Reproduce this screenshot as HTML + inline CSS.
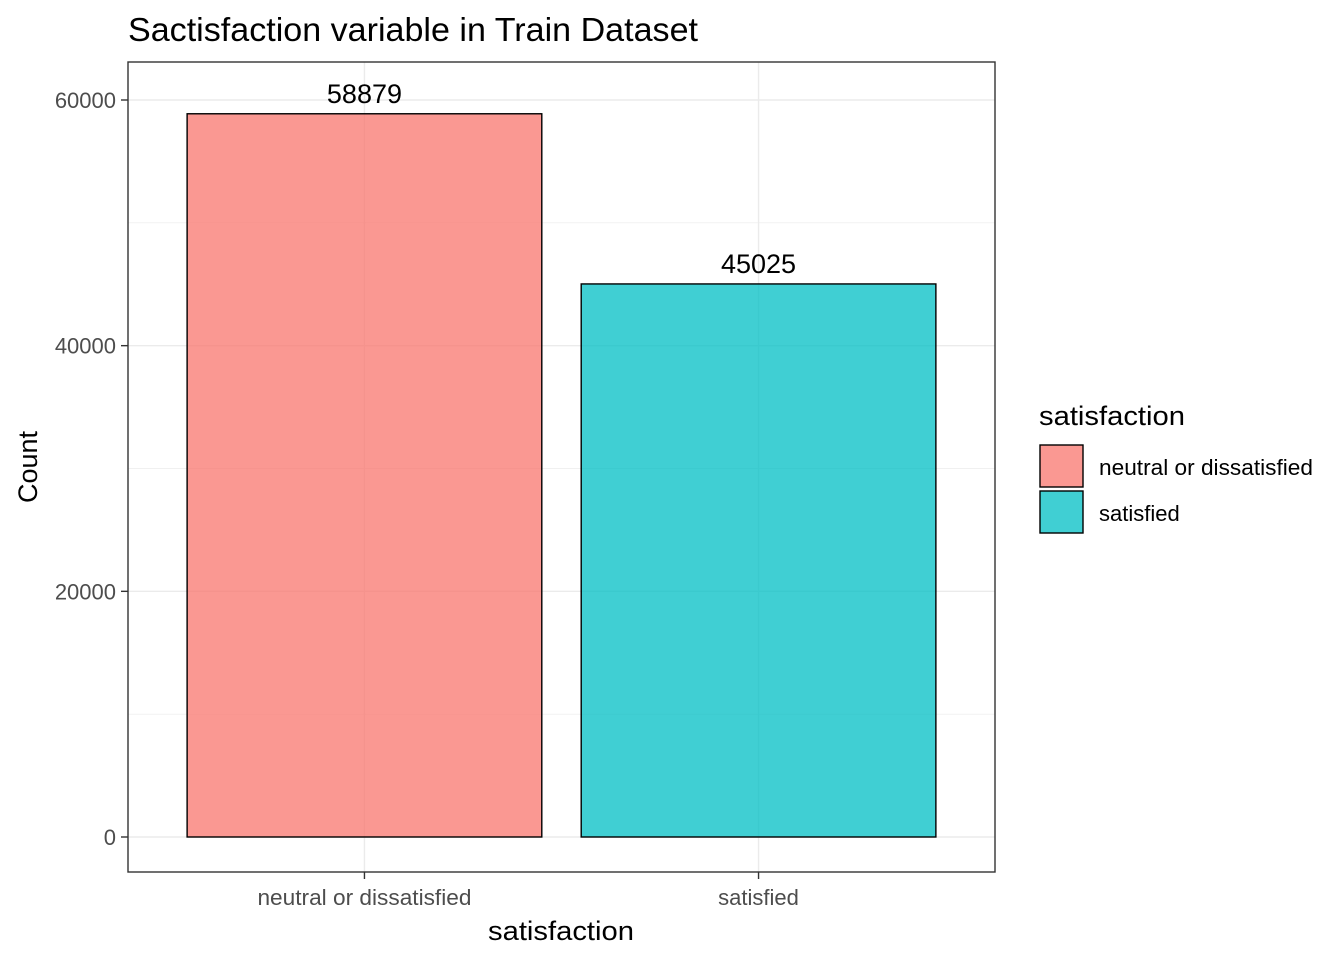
<!DOCTYPE html>
<html><head><meta charset="utf-8"><style>
body{margin:0;background:#fff;}
svg text{font-family:"Liberation Sans",Arial,sans-serif;}
</style></head><body>
<svg id="chart" width="1344" height="960" xmlns="http://www.w3.org/2000/svg">
<rect width="1344" height="960" fill="#fff"/>
<text x="128" y="41" font-size="33" textLength="570" lengthAdjust="spacingAndGlyphs" fill="#000">Sactisfaction variable in Train Dataset</text>
<g id="grid"></g>
<g id="bars"></g>
<rect x="128" y="62" width="867" height="810" fill="none" stroke="#333" stroke-width="1.4"/>
<g id="axes"></g>
<text x="561" y="940" font-size="27" text-anchor="middle" textLength="146" lengthAdjust="spacingAndGlyphs">satisfaction</text>
<text transform="translate(37,467) rotate(-90)" font-size="27" text-anchor="middle">Count</text>
<g>
<text x="1039" y="425" font-size="27" textLength="146" lengthAdjust="spacingAndGlyphs">satisfaction</text>
<g>
<rect x="1040" y="445" width="43" height="42" fill="#F8766D" fill-opacity="0.75" stroke="#000" stroke-width="1.4"/>
<text x="1099" y="475" font-size="22" textLength="214" lengthAdjust="spacingAndGlyphs">neutral or dissatisfied</text></g>
<g>
<rect x="1040" y="491" width="43" height="42" fill="#00BFC4" fill-opacity="0.75" stroke="#000" stroke-width="1.4"/>
<text x="1099" y="521" font-size="22">satisfied</text></g>
</g>
</svg>
<script>
const categories = ["neutral or dissatisfied", "satisfied"];
const counts = [58879, 45025];
const yTicks = [0, 20000, 40000, 60000];
const yMinor = [10000, 30000, 50000];
const colors = ["#F8766D", "#00BFC4"];
const NS = "http://www.w3.org/2000/svg";
const px0 = 128, px1 = 995, py0 = 62, py1 = 872;
function y(v){ return 837 - v * (737/60000); }
const step = (px1 - px0) / (categories.length + 0.2);
function x(i){ return px0 + step*0.6 + i*step; }
function mk(tag, attrs, parent){ const e=document.createElementNS(NS,tag); for(const k in attrs) e.setAttribute(k,attrs[k]); parent.appendChild(e); return e; }
const grid=document.getElementById('grid'), bars=document.getElementById('bars'), axes=document.getElementById('axes');
yMinor.forEach(v=>{ const l=mk('line',{x1:px0,x2:px1,y1:y(v),y2:y(v),stroke:'#ebebeb','stroke-width':0.7},grid);

 });
yTicks.forEach(v=>{ const l=mk('line',{x1:px0,x2:px1,y1:y(v),y2:y(v),stroke:'#ebebeb','stroke-width':1.4},grid);


const t=mk('line',{x1:px0-7,x2:px0,y1:y(v),y2:y(v),stroke:'#333','stroke-width':1.4},axes);


const tx=mk('text',{x:px0-12,y:y(v)+8,'font-size':22,'text-anchor':'end',fill:'#4d4d4d'},axes); tx.textContent=v;

 });
categories.forEach((c,i)=>{ const cx=x(i);
const g=mk('line',{x1:cx,x2:cx,y1:py0,y2:py1,stroke:'#ebebeb','stroke-width':1.4},grid);


const w=step*0.9;
const r=mk('rect',{x:cx-w/2,y:y(counts[i]),width:w,height:y(0)-y(counts[i]),fill:colors[i],'fill-opacity':0.75,stroke:'#000','stroke-width':1.4},bars);


const lb=mk('text',{x:cx,y:y(counts[i])-11,'font-size':27,'text-anchor':'middle'},bars); lb.textContent=counts[i];


const t=mk('line',{x1:cx,x2:cx,y1:py1,y2:py1+7,stroke:'#333','stroke-width':1.4},axes);


const tx=mk('text',{x:cx,y:905,'font-size':22,'text-anchor':'middle',fill:'#4d4d4d'},axes); tx.textContent=c;
if(i===0){ tx.setAttribute('textLength','214'); tx.setAttribute('lengthAdjust','spacingAndGlyphs'); }

 });
</script>
</body></html>
